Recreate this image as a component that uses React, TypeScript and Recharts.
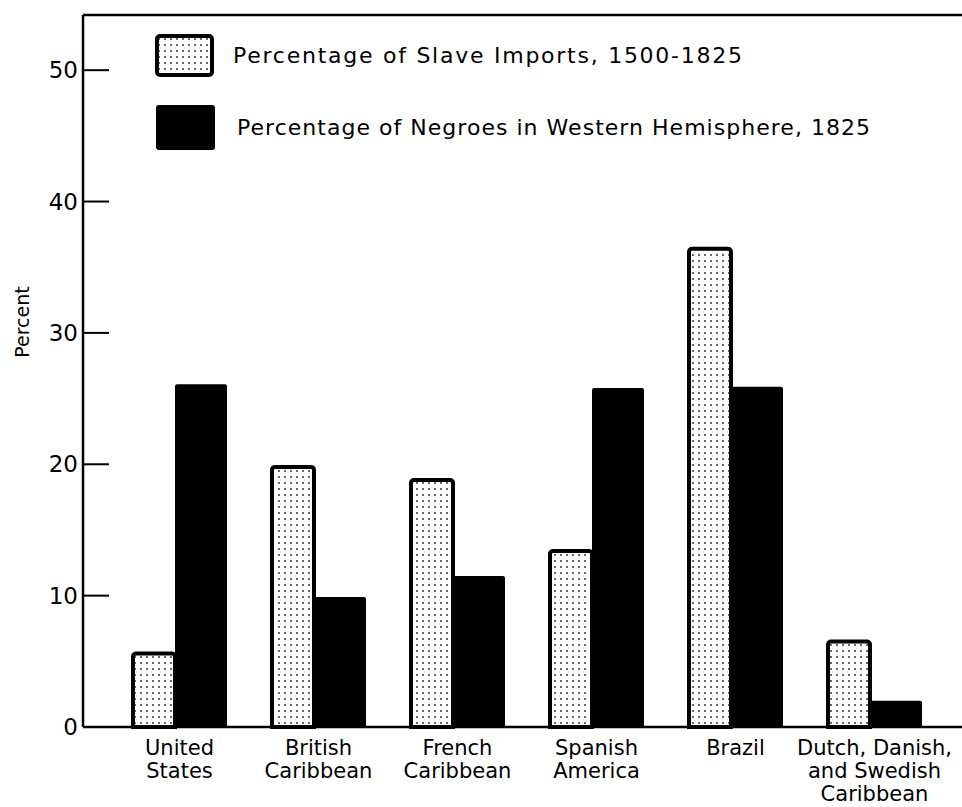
import React from "react";
import { Bar, BarChart, Legend, ReferenceLine, XAxis, YAxis } from "recharts";

const categories = [
  "United\nStates",
  "British\nCaribbean",
  "French\nCaribbean",
  "Spanish\nAmerica",
  "Brazil",
  "Dutch, Danish,\nand Swedish\nCaribbean",
];

// percentage of slave imports, 1500-1825
const slaveImports = [5.6, 19.8, 18.8, 13.4, 36.4, 6.5];

// percentage of negroes in western hemisphere, 1825
const negroPopulation = [26.1, 9.9, 11.5, 25.8, 25.9, 2.0];

const yTicks = [0, 10, 20, 30, 40, 50];
const Y_MAX = 54.2;

const legendLabels = [
  "Percentage of  Slave  Imports,  1500-1825",
  "Percentage of  Negroes  in  Western  Hemisphere,  1825",
];

const data = categories.map((name, i) => ({
  name,
  imports: slaveImports[i],
  negroes: negroPopulation[i],
}));

const FONT = "DejaVu Sans";
const PLOT_LEFT = 83;
const PLOT_BOTTOM = 727;

function YTick(props: any) {
  const { y, payload } = props;
  return (
    <g>
      <line x1={PLOT_LEFT} x2={PLOT_LEFT + 26} y1={y} y2={y} stroke="#000" strokeWidth={2} />
      <text x={PLOT_LEFT - 5} y={y + 8} textAnchor="end" fontFamily={FONT} fontSize={23} fill="#000">
        {payload.value}
      </text>
    </g>
  );
}

function XTick(props: any) {
  const { x, payload } = props;
  const lines = String(payload.value).split("\n");
  return (
    <text x={x} y={PLOT_BOTTOM + 28} textAnchor="middle" fontFamily={FONT} fontSize={21} fill="#000">
      {lines.map((line, i) => (
        <tspan key={i} x={x} dy={i === 0 ? 0 : 23}>
          {line}
        </tspan>
      ))}
    </text>
  );
}

function renderLegend() {
  return (
    <svg width={962} height={160} style={{ display: "block" }}>
      <rect x={157} y={36} width={55} height={39} rx={3} fill="url(#dots)" stroke="#000" strokeWidth={4} />
      <text x={233} y={63} fontFamily={FONT} fontSize={22} textLength={509} lengthAdjust="spacing">
        {legendLabels[0]}
      </text>
      <rect x={156} y={105} width={59} height={45} rx={3} fill="#000" />
      <text x={237} y={135} fontFamily={FONT} fontSize={22} textLength={633} lengthAdjust="spacing">
        {legendLabels[1]}
      </text>
    </svg>
  );
}

export default function App() {
  return (
    <div style={{ position: "absolute", left: 0, top: 0, background: "#fff" }}>
      <svg width={0} height={0} style={{ position: "absolute" }}>
        <defs>
          <pattern id="dots" width={6} height={6} patternUnits="userSpaceOnUse">
            <rect width={6} height={6} fill="#fff" />
            <circle cx={3} cy={3} r={0.9} fill="#222" />
          </pattern>
        </defs>
      </svg>
      <BarChart
        width={962}
        height={807}
        data={data}
        margin={{ top: 15, right: 0, bottom: 0, left: 0 }}
        barGap={0}
      >
        <XAxis
          dataKey="name"
          height={80}
          interval={0}
          tickLine={false}
          axisLine={{ stroke: "#000", strokeWidth: 2.5 }}
          tick={<XTick />}
          padding={{ left: 27, right: 18 }}
        />
        <YAxis
          width={PLOT_LEFT}
          domain={[0, Y_MAX]}
          ticks={yTicks}
          interval={0}
          tickLine={false}
          axisLine={{ stroke: "#000", strokeWidth: 2.5 }}
          tick={<YTick />}
          label={{
            content: () => (
              <text
                x={29}
                y={322}
                transform="rotate(-90, 29, 322)"
                textAnchor="middle"
                fontFamily={FONT}
                fontSize={19}
                fill="#000"
              >
                Percent
              </text>
            ),
          }}
        />
        <ReferenceLine y={Y_MAX} stroke="#000" strokeWidth={2.5} ifOverflow="visible" />
        <Legend
          layout="horizontal"
          verticalAlign="middle"
          align="center"
          width={962}
          height={160}
          wrapperStyle={{ left: 0, top: 0 }}
          content={renderLegend}
        />
        <Bar
          dataKey="imports"
          barSize={42}
          fill="url(#dots)"
          stroke="#000"
          strokeWidth={4}
          radius={[3, 3, 0, 0]}
          isAnimationActive={false}
        />
        <Bar dataKey="negroes" barSize={52} fill="#000" radius={[2, 2, 0, 0]} isAnimationActive={false} />
      </BarChart>
    </div>
  );
}
